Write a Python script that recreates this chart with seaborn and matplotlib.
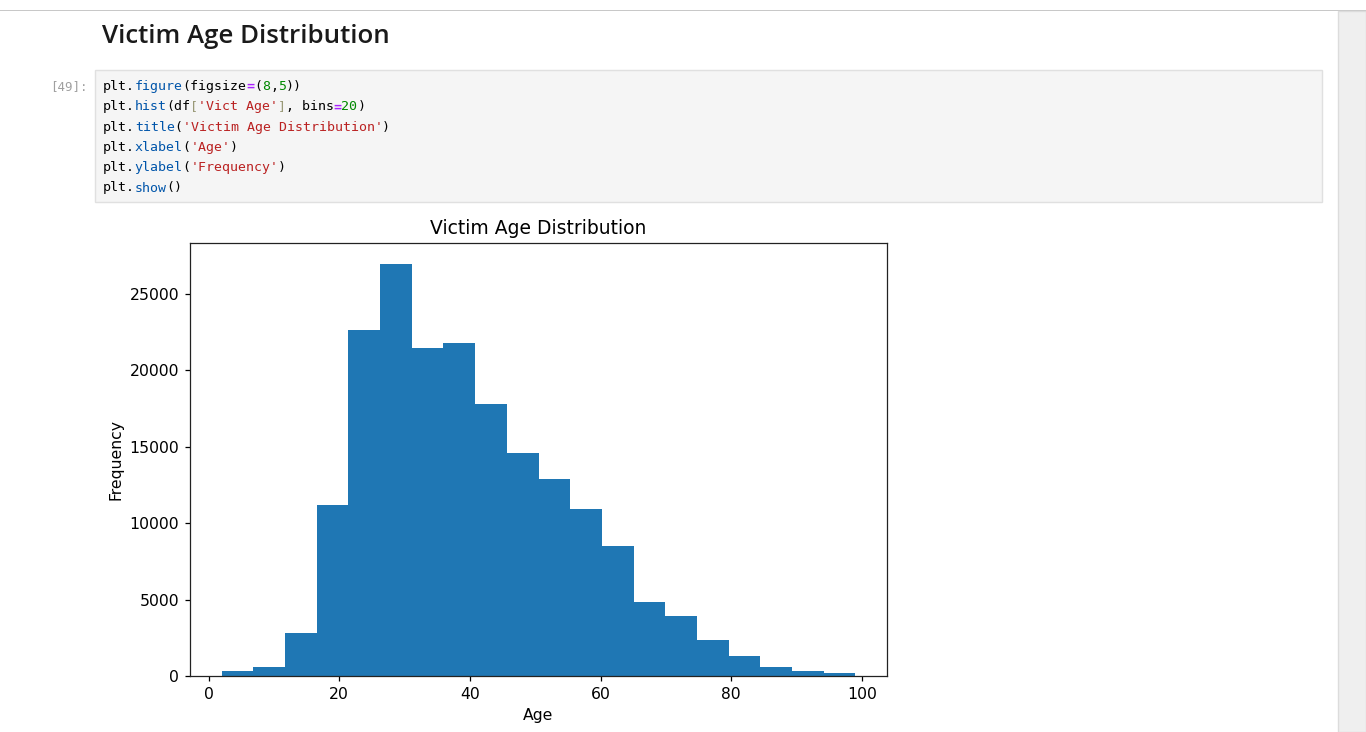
import numpy as np
import matplotlib
matplotlib.use("Agg")
import matplotlib.pyplot as plt
from matplotlib.patches import Rectangle
import seaborn as sns

# Victim age histogram (20 bins over 2..99), counts
age_range = (2, 99)
n_bins = 20
bin_counts = [310, 610, 2790, 11190, 22630, 26970, 21460, 21810, 17780, 14580,
              12880, 10890, 8500, 4820, 3920, 2370, 1340, 600, 300, 210]

heading = "Victim Age Distribution"
prompt = "[49]:"

# notebook code cell, split into coloured tokens
BLACK, BLUE, GREEN, RED, PURPLE, BRACKET = "#000000", "#0055aa", "#008800", "#ba2121", "#aa22ff", "#999977"
code_lines = [
    [("plt.", BLACK), ("figure", BLUE), ("(figsize", BLACK), ("=", PURPLE), ("(", BLACK),
     ("8", GREEN), (",", BLACK), ("5", GREEN), ("))", BLACK)],
    [("plt.", BLACK), ("hist", BLUE), ("(df", BLACK), ("[", BRACKET), ("'Vict Age'", RED),
     ("]", BRACKET), (", bins", BLACK), ("=", PURPLE), ("20", GREEN), (")", BLACK)],
    [("plt.", BLACK), ("title", BLUE), ("(", BLACK), ("'Victim Age Distribution'", RED), (")", BLACK)],
    [("plt.", BLACK), ("xlabel", BLUE), ("(", BLACK), ("'Age'", RED), (")", BLACK)],
    [("plt.", BLACK), ("ylabel", BLUE), ("(", BLACK), ("'Frequency'", RED), (")", BLACK)],
    [("plt.", BLACK), ("show", BLUE), ("()", BLACK)],
]

W, H = 1366, 732


def fx(x):
    return x / W


def fy(y):
    return 1 - y / H


fig = plt.figure(figsize=(W / 100, H / 100), dpi=100)
fig.patch.set_facecolor("white")

# page chrome: top rule, scrollbar strip, code cell box
fig.add_artist(Rectangle((0, fy(11)), 1, 1.5 / H, transform=fig.transFigure,
                         facecolor="#c8c8c8", edgecolor="none"))
fig.add_artist(Rectangle((fx(1338), 0), 28 / W, fy(11), transform=fig.transFigure,
                         facecolor="#efefef", edgecolor="#dcdcdc", linewidth=1))
fig.add_artist(Rectangle((fx(95), fy(202)), (1322 - 95) / W, (202 - 70) / H,
                         transform=fig.transFigure, facecolor="#f5f5f5",
                         edgecolor="#e0e0e0", linewidth=1))

# markdown heading, sized to fit its width in the screenshot
head = fig.text(fx(102), fy(43), heading, family="Open Sans", weight="semibold",
                size=19, color="#1a1a1a", va="baseline")
renderer = fig.canvas.get_renderer()
w = head.get_window_extent(renderer).width
head.set_fontsize(19 * 288 / w)

fig.text(fx(88), fy(90), prompt, family="DejaVu Sans Mono", size=9.0,
         color="#a0a0a0", ha="right", va="baseline")

char_w = 7.95
for i, tokens in enumerate(code_lines):
    col = 0
    base = 90 + i * 20.3
    for tok, color in tokens:
        fig.text(fx(103 + col * char_w), fy(base), tok, family="DejaVu Sans Mono",
                 size=9.5, color=color, va="baseline",
                 weight="bold" if color == PURPLE else "normal")
        col += len(tok)

# the chart itself
edges = np.linspace(age_range[0], age_range[1], n_bins + 1)
centers = (edges[:-1] + edges[1:]) / 2

ax = fig.add_axes([fx(190), fy(676), (887 - 190) / W, (676 - 243) / H])
sns.histplot(x=centers, weights=bin_counts, bins=n_bins, binrange=age_range,
             color="#1f77b4", alpha=1, edgecolor="none", linewidth=0, ax=ax)

scale = 1.124
ax.set_title("Victim Age Distribution", fontsize=12 * scale, pad=6 * scale)
ax.set_xlabel("Age", fontsize=10 * scale, labelpad=4 * scale)
ax.set_ylabel("Frequency", fontsize=10 * scale, labelpad=4 * scale)
ax.tick_params(labelsize=10 * scale, length=3.5 * scale, width=0.8 * scale, pad=3.5 * scale)
for spine in ax.spines.values():
    spine.set_linewidth(0.8 * scale)
    spine.set_color("#222222")

fig.savefig("out.png", dpi=100)
